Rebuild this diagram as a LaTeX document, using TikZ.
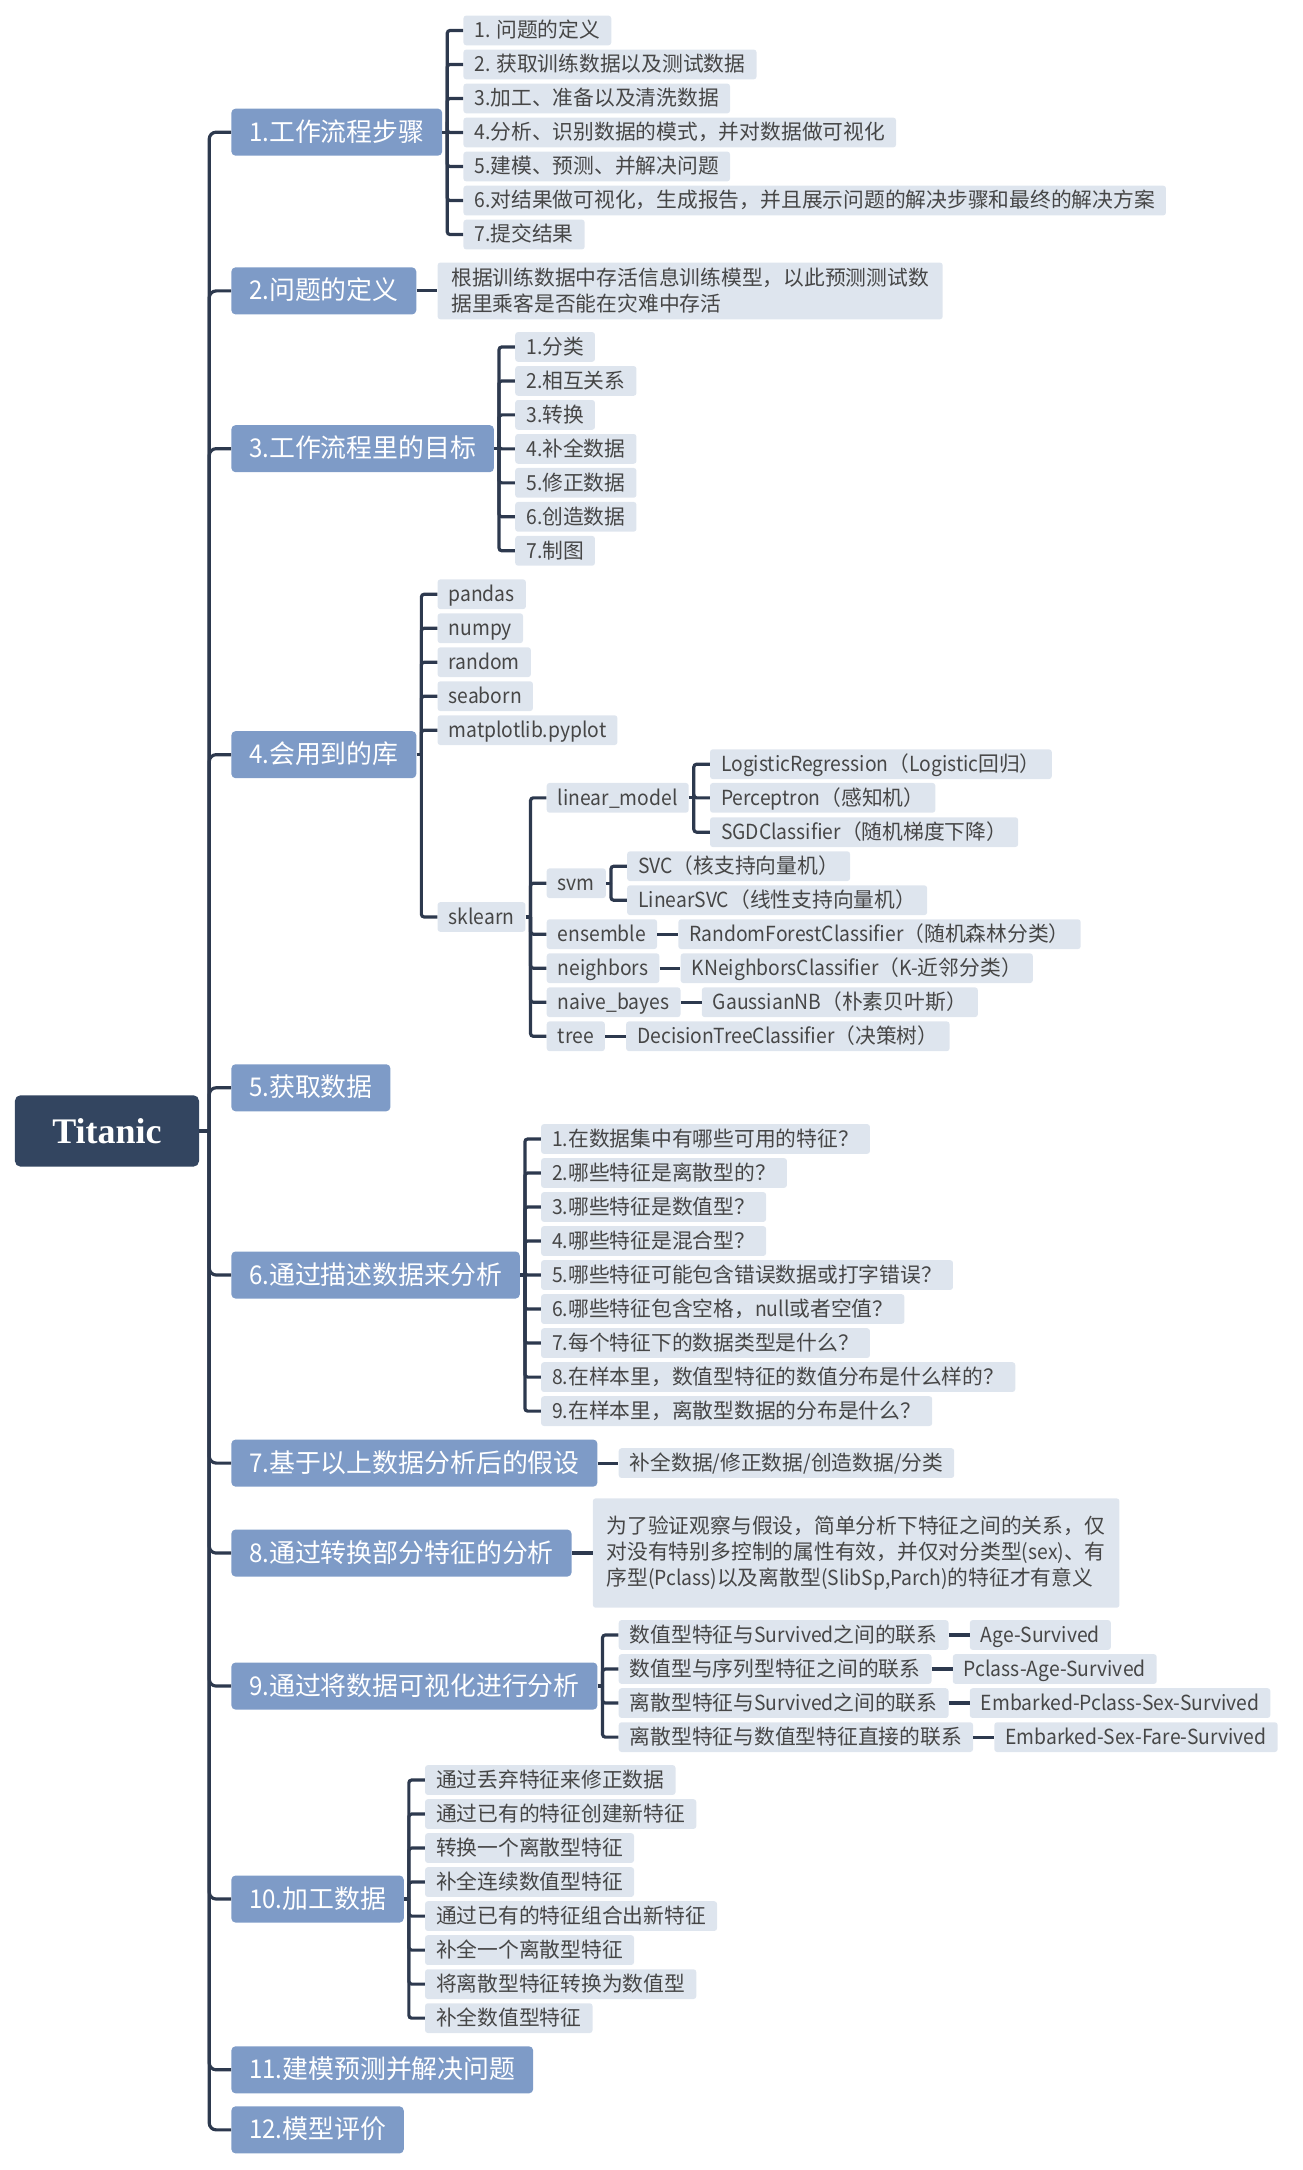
\documentclass[tikz,border=0pt]{standalone}
\usepackage{fontspec}
\usetikzlibrary{calc}
\setmainfont{Noto Sans CJK SC}[FakeStretch=0.93]
\newfontfamily\latfont{Noto Sans CJK SC}[FakeStretch=0.93]
\newfontfamily\hanfont{Noto Sans CJK SC}
\newfontfamily\titlefont{Liberation Serif}
% CJK characters keep their full width, Latin runs are set a little narrower
\XeTeXinterchartokenstate=1
\newXeTeXintercharclass\hanclass
\newcount\hanpos
\hanpos="3000
\loop\ifnum\hanpos<"3040 \XeTeXcharclass\hanpos=\hanclass \advance\hanpos by 1 \repeat
\hanpos="4E00
\loop\ifnum\hanpos<"A000 \XeTeXcharclass\hanpos=\hanclass \advance\hanpos by 1 \repeat
\hanpos="FF00
\loop\ifnum\hanpos<"FFF0 \XeTeXcharclass\hanpos=\hanclass \advance\hanpos by 1 \repeat
\XeTeXinterchartoks 0 \hanclass = {\hanfont}
\XeTeXinterchartoks 4095 \hanclass = {\hanfont}
\XeTeXinterchartoks \hanclass 0 = {\latfont}
\definecolor{navy}{RGB}{51, 69, 96}
\definecolor{steel}{RGB}{126, 155, 199}
\definecolor{pale}{RGB}{222, 229, 238}
\definecolor{ink}{RGB}{70, 70, 70}
\definecolor{wirec}{RGB}{45, 57, 78}

\begin{document}
\begin{tikzpicture}[x=1pt, y=-1pt,
  wire/.style={draw=wirec, line width=2.3pt},
  mainbox/.style={anchor=west, fill=steel, text=white, rounded corners=3pt,
    inner xsep=12.8pt, inner ysep=0pt, minimum height=34pt,
    text height=15.5pt, text depth=2.5pt, font=\fontsize{18.7}{22}\selectfont},
  subbox/.style={anchor=west, fill=pale, text=ink, rounded corners=2pt,
    inner xsep=8pt, inner ysep=0pt, minimum height=21.5pt,
    text height=12.5pt, text depth=2pt, font=\fontsize{15}{18.5}\selectfont},
  notebox/.style={anchor=west, fill=pale, text=ink, rounded corners=2pt,
    inner xsep=10pt, inner ysep=0pt, align=left,
    font=\fontsize{15}{18.7}\selectfont}]

  \useasboundingbox (0, 0) rectangle (941, 1568);

  % central topic
  \node[fill=navy, text=white, rounded corners=4pt, minimum width=133pt,
    minimum height=51.6pt, font=\titlefont\bfseries\fontsize{26}{30}\selectfont]
    (root) at (77.3, 817.2) {Titanic};

  \foreach \txt/\yy [count=\k] in {1.工作流程步骤/95.5, 2.问题的定义/210.2,
    3.工作流程里的目标/324.2, 4.会用到的库/545.3, 5.获取数据/786,
    6.通过描述数据来分析/921.3, 7.基于以上数据分析后的假设/1057.2,
    8.通过转换部分特征的分析/1122.2, 9.通过将数据可视化进行分析/1218.3,
    10.加工数据/1372.2, 11.建模预测并解决问题/1495.6, 12.模型评价/1539} {
    \node[mainbox] (n\k) at (167, \yy) {\txt};
  }

  \coordinate (trunk) at ($(root.east)+(7.2, 0)$);
  \draw[wire] (root.east) -- (trunk);
  \foreach \k in {1,...,12} {
    \draw[wire, rounded corners=5pt] (trunk) |- (n\k.west);
  }

  % 1. workflow steps
  \coordinate (b1) at ($(n1.east)+(3.5, 0)$);
  \draw[wire] (n1.east) -- (b1);
  \foreach \txt [count=\i] in {1. 问题的定义, 2. 获取训练数据以及测试数据,
    3.加工、准备以及清洗数据, 4.分析、识别数据的模式，并对数据做可视化,
    5.建模、预测、并解决问题,
    6.对结果做可视化，生成报告，并且展示问题的解决步骤和最终的解决方案,
    7.提交结果} {
    \pgfmathsetmacro{\yy}{22+24.58*(\i-1)}
    \node[subbox] (flow\i) at ($(b1 |- 0,\yy)+(11.5, 0)$) {\txt};
    \draw[wire, rounded corners=2pt] (b1) |- (flow\i.west);
  }

  % 2. problem definition
  \node[notebox, minimum height=41pt] (aim) at ($(n2.east)+(15, 0)$)
    {根据训练数据中存活信息训练模型，以此预测测试数\\据里乘客是否能在灾难中存活};
  \draw[wire] (n2.east) -- (aim.west);

  % 3. goals
  \coordinate (b3) at ($(n3.east)+(3.5, 0)$);
  \draw[wire] (n3.east) -- (b3);
  \foreach \txt [count=\i] in {1.分类, 2.相互关系, 3.转换, 4.补全数据,
    5.修正数据, 6.创造数据, 7.制图} {
    \pgfmathsetmacro{\yy}{250.7+24.55*(\i-1)}
    \node[subbox] (goal\i) at ($(b3 |- 0,\yy)+(11.5, 0)$) {\txt};
    \draw[wire, rounded corners=2pt] (b3) |- (goal\i.west);
  }

  % 4. libraries
  \coordinate (b4) at ($(n4.east)+(3.5, 0)$);
  \draw[wire] (n4.east) -- (b4);
  \foreach \txt [count=\i] in {pandas, numpy, random, seaborn, matplotlib.pyplot} {
    \pgfmathsetmacro{\yy}{429.4+24.55*(\i-1)}
    \node[subbox] (lib\i) at ($(b4 |- 0,\yy)+(11.5, 0)$) {\txt};
    \draw[wire, rounded corners=2pt] (b4) |- (lib\i.west);
  }
  \node[subbox] (sk) at ($(b4 |- 0,662.6)+(11.5, 0)$) {sklearn};
  \draw[wire, rounded corners=2pt] (b4) |- (sk.west);

  \coordinate (bs) at ($(sk.east)+(3.5, 0)$);
  \draw[wire] (sk.east) -- (bs);
  \foreach \txt/\yy [count=\i] in {linear\_model/576.5, svm/638.2,
    ensemble/675, neighbors/699.6, naive\_bayes/724.2, tree/748.8} {
    \node[subbox] (mod\i) at ($(bs |- 0,\yy)+(11.5, 0)$) {\txt};
    \draw[wire, rounded corners=2pt] (bs) |- (mod\i.west);
  }

  \coordinate (bl) at ($(mod1.east)+(3.5, 0)$);
  \draw[wire] (mod1.east) -- (bl);
  \foreach \txt/\yy [count=\i] in {LogisticRegression（Logistic回归）/552.2,
    Perceptron（感知机）/576.5, SGDClassifier（随机梯度下降）/601.3} {
    \node[subbox] (lin\i) at ($(bl |- 0,\yy)+(11.5, 0)$) {\txt};
    \draw[wire, rounded corners=2pt] (bl) |- (lin\i.west);
  }

  \coordinate (bv) at ($(mod2.east)+(3.5, 0)$);
  \draw[wire] (mod2.east) -- (bv);
  \foreach \txt/\yy [count=\i] in {SVC（核支持向量机）/625.9,
    LinearSVC（线性支持向量机）/650.5} {
    \node[subbox] (sv\i) at ($(bv |- 0,\yy)+(11.5, 0)$) {\txt};
    \draw[wire, rounded corners=2pt] (bv) |- (sv\i.west);
  }

  \foreach \m/\txt in {3/RandomForestClassifier（随机森林分类）,
    4/KNeighborsClassifier（K-近邻分类）, 5/GaussianNB（朴素贝叶斯）,
    6/DecisionTreeClassifier（决策树）} {
    \node[subbox] (algo\m) at ($(mod\m.east)+(15, 0)$) {\txt};
    \draw[wire] (mod\m.east) -- (algo\m.west);
  }

  % 6. describing the data
  \coordinate (b6) at ($(n6.east)+(3.5, 0)$);
  \draw[wire] (n6.east) -- (b6);
  \foreach \txt [count=\i] in {1.在数据集中有哪些可用的特征？,
    2.哪些特征是离散型的？, 3.哪些特征是数值型？, 4.哪些特征是混合型？,
    5.哪些特征可能包含错误数据或打字错误？, 6.哪些特征包含空格，null或者空值？,
    7.每个特征下的数据类型是什么？, 8.在样本里，数值型特征的数值分布是什么样的？,
    9.在样本里，离散型数据的分布是什么？} {
    \pgfmathsetmacro{\yy}{823+24.58*(\i-1)}
    \node[subbox] (ask\i) at ($(b6 |- 0,\yy)+(11.5, 0)$) {\txt};
    \draw[wire, rounded corners=2pt] (b6) |- (ask\i.west);
  }

  % 7. hypotheses
  \node[subbox] (guess) at ($(n7.east)+(15, 0)$) {补全数据/修正数据/创造数据/分类};
  \draw[wire] (n7.east) -- (guess.west);

  % 8. transformed features
  \node[notebox, minimum height=79pt] (pivot) at ($(n8.east)+(15, 0)$)
    {为了验证观察与假设，简单分析下特征之间的关系，仅\\
     对没有特别多控制的属性有效，并仅对分类型(sex)、有\\
     序型(Pclass)以及离散型(SlibSp,Parch)的特征才有意义};
  \draw[wire] (n8.east) -- (pivot.west);

  % 9. visualisation
  \coordinate (b9) at ($(n9.east)+(3.5, 0)$);
  \draw[wire] (n9.east) -- (b9);
  \foreach \txt/\res [count=\i] in {数值型特征与Survived之间的联系/Age-Survived,
    数值型与序列型特征之间的联系/Pclass-Age-Survived,
    离散型特征与Survived之间的联系/Embarked-Pclass-Sex-Survived,
    离散型特征与数值型特征直接的联系/Embarked-Sex-Fare-Survived} {
    \pgfmathsetmacro{\yy}{1181.4+24.6*(\i-1)}
    \node[subbox] (viz\i) at ($(b9 |- 0,\yy)+(11.5, 0)$) {\txt};
    \draw[wire, rounded corners=2pt] (b9) |- (viz\i.west);
    \node[subbox] (pair\i) at ($(viz\i.east)+(15, 0)$) {\res};
    \draw[wire] (viz\i.east) -- (pair\i.west);
  }

  % 10. wrangling
  \coordinate (b10) at ($(n10.east)+(3.5, 0)$);
  \draw[wire] (n10.east) -- (b10);
  \foreach \txt [count=\i] in {通过丢弃特征来修正数据, 通过已有的特征创建新特征,
    转换一个离散型特征, 补全连续数值型特征, 通过已有的特征组合出新特征,
    补全一个离散型特征, 将离散型特征转换为数值型, 补全数值型特征} {
    \pgfmathsetmacro{\yy}{1286.2+24.58*(\i-1)}
    \node[subbox] (prep\i) at ($(b10 |- 0,\yy)+(11.5, 0)$) {\txt};
    \draw[wire, rounded corners=2pt] (b10) |- (prep\i.west);
  }

\end{tikzpicture}
\end{document}
